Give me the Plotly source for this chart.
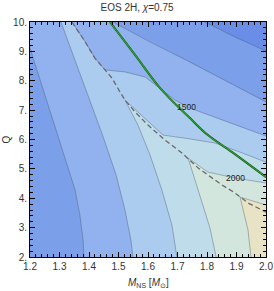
import plotly.graph_objects as go

# ---- data (M_NS in solar masses, Q) ----
# dashed boundary curve
dash_M = [1.342, 1.383, 1.420, 1.454, 1.478, 1.505, 1.522, 1.556, 1.600, 1.658, 1.715, 1.770, 1.851, 1.895, 1.939, 2.0]
dash_Q = [10.0, 9.39, 8.77, 8.37, 8.09, 7.62, 7.34, 6.94, 6.49, 5.98, 5.54, 5.03, 4.45, 4.18, 3.84, 3.53]

# green curve
green_M = [1.471, 1.556, 1.641, 1.742, 1.803, 1.885, 2.0]
green_Q = [10.0, 8.88, 7.75, 6.73, 6.15, 5.57, 4.72]

# contour levels (lower-left branch "a", upper-right branch "b")
c1000_M = [1.793, 1.895, 2.0]
c1000_Q = [10.0, 9.49, 9.01]
c1250a_M = [1.2, 1.234, 1.268, 1.295, 1.325, 1.353, 1.369, 1.380, 1.383]
c1250a_Q = [9.11, 8.03, 7.00, 6.09, 5.13, 4.28, 3.43, 2.58, 2.0]
c1250b_M = [1.481, 1.607, 1.742, 1.878, 2.0]
c1250b_Q = [10.0, 9.32, 8.64, 7.92, 7.28]
c1500a_M = [1.305, 1.353, 1.397, 1.448, 1.492, 1.522, 1.542, 1.549]
c1500a_Q = [10.0, 8.71, 7.52, 6.09, 4.79, 3.60, 2.58, 2.0]
c1500b_M = [1.454, 1.522, 1.590, 1.641, 1.692, 1.742, 1.878, 2.0]
c1500b_Q = [8.37, 8.30, 8.13, 7.75, 7.34, 7.07, 6.56, 6.12]
c1750a_M = [1.522, 1.566, 1.607, 1.647, 1.681, 1.698]
c1750a_Q = [7.34, 6.49, 5.47, 4.28, 3.09, 2.0]
c1750b_M = [1.522, 1.583, 1.651, 1.742, 1.827, 1.912, 2.0]
c1750b_Q = [7.34, 6.77, 6.15, 6.02, 5.88, 5.57, 5.23]
c2000a_M = [1.736, 1.776, 1.810, 1.831]
c2000a_Q = [5.37, 4.11, 2.99, 2.0]
c2000b_M = [1.736, 1.803, 1.895, 2.0]
c2000b_Q = [5.37, 4.89, 4.69, 4.52]
c2250a_M = [1.912, 1.939, 1.949]
c2250a_Q = [4.04, 2.92, 2.0]
c2250b_M = [1.912, 2.0]
c2250b_Q = [4.04, 3.77]

level_labels = ["1500", "2000"]
label_M = [1.732, 1.895]
label_Q = [7.10, 4.69]

x_ticks = [1.2, 1.3, 1.4, 1.5, 1.6, 1.7, 1.8, 1.9, 2.0]
x_ticktext = ["1.2", "1.3", "1.4", "1.5", "1.6", "1.7", "1.8", "1.9", "2.0"]
y_ticks = [2, 3, 4, 5, 6, 7, 8, 9, 10]
y_ticktext = ["2.", "3.", "4.", "5.", "6.", "7.", "8.", "9.", "10."]

# band colours (low -> high)
col_750 = "#6a8de7"
col_1000 = "#7c9fe9"
col_1250 = "#91b2ee"
col_1500 = "#abcbef"
col_1750 = "#bfdcea"
col_2000 = "#d2e6de"
col_2250 = "#e7e3c4"

XMIN, XMAX, YMIN, YMAX = 1.2, 2.0, 2.0, 10.0
FONT = "Liberation Sans, Arial"

def rev(a):
    return list(reversed(a))

fig = go.Figure()

def poly(xs, ys, color):
    fig.add_trace(go.Scatter(x=xs, y=ys, mode="lines", fill="toself", fillcolor=color,
                             line=dict(width=0), hoverinfo="skip", showlegend=False))

# superlevel regions layered from low to high
poly([XMIN, XMAX, XMAX] + rev(c1000_M)[1:] + [XMIN],
     [YMIN, YMIN, c1000_Q[-1]] + rev(c1000_Q)[1:] + [YMAX], col_1000)
poly(c1250a_M + [XMAX, XMAX] + rev(c1250b_M)[1:] + [XMIN],
     c1250a_Q + [YMIN, c1250b_Q[-1]] + rev(c1250b_Q)[1:] + [YMAX], col_1250)
poly(c1500a_M + [XMAX, XMAX] + rev(c1500b_M)[1:] + rev(dash_M[:3]),
     c1500a_Q + [YMIN, c1500b_Q[-1]] + rev(c1500b_Q)[1:] + rev(dash_Q[:3]), col_1500)
poly(rev(c1750a_M) + c1750b_M[1:] + [XMAX],
     rev(c1750a_Q) + c1750b_Q[1:] + [YMIN], col_1750)
poly(rev(c2000a_M) + c2000b_M[1:] + [XMAX],
     rev(c2000a_Q) + c2000b_Q[1:] + [YMIN], col_2000)
poly(rev(c2250a_M) + c2250b_M[1:] + [XMAX],
     rev(c2250a_Q) + c2250b_Q[1:] + [YMIN], col_2250)

line_style = dict(color="rgba(70,85,105,0.5)", width=0.8)
for xs, ys in [(c1000_M, c1000_Q), (c1250a_M, c1250a_Q), (c1250b_M, c1250b_Q),
               (c1500a_M, c1500a_Q), (c1500b_M, c1500b_Q), (dash_M[:4], dash_Q[:4]),
               (c1750a_M, c1750a_Q), (c1750b_M, c1750b_Q),
               (c2000a_M, c2000a_Q), (c2000b_M, c2000b_Q),
               (c2250a_M, c2250a_Q), (c2250b_M, c2250b_Q)]:
    fig.add_trace(go.Scatter(x=xs, y=ys, mode="lines", line=line_style,
                             hoverinfo="skip", showlegend=False))

# dashed boundary
fig.add_trace(go.Scatter(x=dash_M, y=dash_Q, mode="lines",
                         line=dict(color="#6a6a6a", width=1.3, dash="5px,3px"),
                         hoverinfo="skip", showlegend=False))
# green curve
fig.add_trace(go.Scatter(x=green_M, y=green_Q, mode="lines", line_shape="spline",
                         line=dict(color="#1f3f1f", width=2.0),
                         hoverinfo="skip", showlegend=False))
fig.add_trace(go.Scatter(x=green_M, y=green_Q, mode="lines", line_shape="spline",
                         line=dict(color="#22b022", width=1.2),
                         hoverinfo="skip", showlegend=False))

for t, xm, yq in zip(level_labels, label_M, label_Q):
    fig.add_annotation(x=xm, y=yq, text=t, showarrow=False,
                       font=dict(family=FONT, size=8.5, color="#222"))

# axis titles
fig.add_annotation(x=0.5, y=0, xref="paper", yref="paper", yshift=-26, yanchor="middle",
                   text="<i>M</i><sub>NS</sub> [<i>M</i><sub>⊙</sub>]", showarrow=False,
                   font=dict(family=FONT, size=10, color="#333"))
fig.add_annotation(x=0, y=0.5, xref="paper", yref="paper", xshift=-24, xanchor="center",
                   text="Q", textangle=-90, showarrow=False,
                   font=dict(family=FONT, size=10, color="#333"))

axis_common = dict(showline=True, linecolor="black", linewidth=1, mirror="allticks",
                   ticks="inside", ticklen=5, tickwidth=1, tickcolor="black",
                   showgrid=False, zeroline=False, automargin=False,
                   tickfont=dict(family=FONT, size=10, color="#333"))

fig.update_layout(
    width=274, height=291,
    margin=dict(l=30, r=8, t=22, b=34),
    paper_bgcolor="white", plot_bgcolor=col_750,
    title=dict(text="EOS 2H, <i>χ</i>=0.75", x=0.5, xanchor="center", y=0.985, yanchor="top",
               font=dict(family=FONT, size=10, color="#333")),
    xaxis=dict(range=[XMIN, XMAX], tickvals=x_ticks, ticktext=x_ticktext,
               minor=dict(ticks="inside", ticklen=3, dtick=0.02, tickcolor="black", tickwidth=1),
               **axis_common),
    yaxis=dict(range=[YMIN, YMAX], tickvals=y_ticks, ticktext=y_ticktext,
               minor=dict(ticks="inside", ticklen=3, dtick=0.2, tickcolor="black", tickwidth=1),
               **axis_common),
)

fig.write_html("out.html", config={"displayModeBar": False, "staticPlot": True},
               post_script="document.body.style.margin='0';document.body.style.padding='0';"
                           "document.body.style.overflow='hidden';")
